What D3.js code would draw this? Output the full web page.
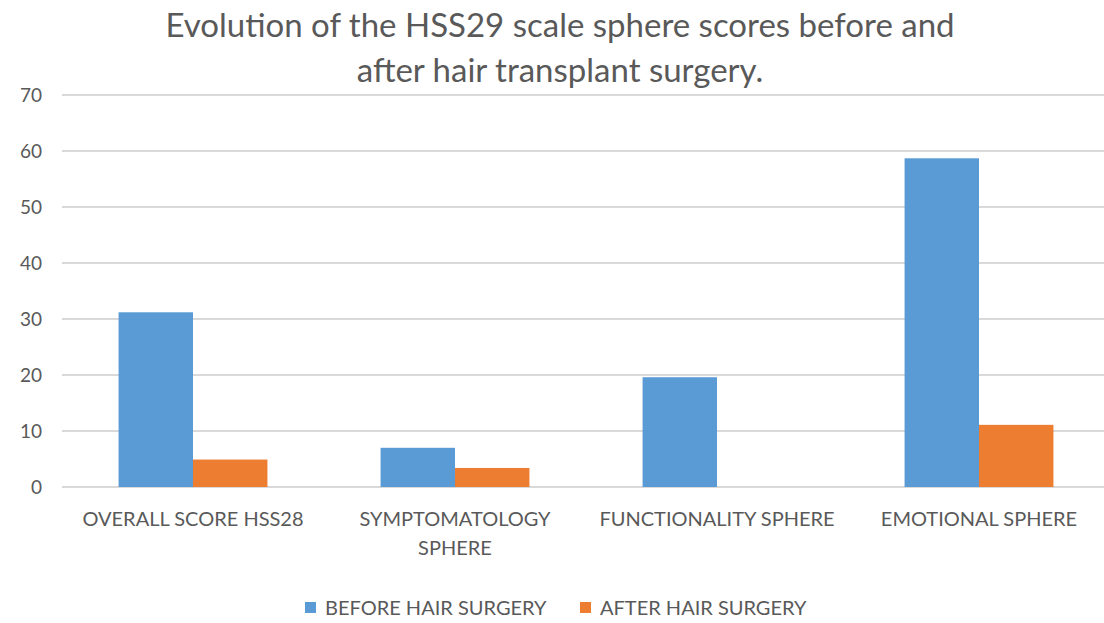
<!DOCTYPE html>
<html>
<head>
<meta charset="utf-8">
<script src="https://cdn.jsdelivr.net/npm/d3@7"></script>
<style>
  body { margin: 0; background: #fff; }
  text { font-family: Lato, "Open Sans", sans-serif; fill: #595959; }
</style>
</head>
<body>
<svg width="1104" height="623"></svg>
<script>
let categories = [
  ["OVERALL SCORE HSS28"],
  ["SYMPTOMATOLOGY", "SPHERE"],
  ["FUNCTIONALITY SPHERE"],
  ["EMOTIONAL SPHERE"],
];
let seriesNames = ["BEFORE HAIR SURGERY", "AFTER HAIR SURGERY"];
let beforeValues = [31.2, 7.0, 19.6, 58.7];
let afterValues = [4.9, 3.4, 0, 11.1];
let yTicks = [0, 10, 20, 30, 40, 50, 60, 70];
let titleLines = [
  "Evolution of the HSS29 scale sphere scores before and",
  "after hair transplant surgery.",
];

let colors = ["#5B9BD5", "#ED7D31"];

let svg = d3.select("svg"),
  plotLeft = 62,
  plotRight = 1110,
  plotTop = 95,
  plotBottom = 487;

let catKeys = categories.map((c) => c.join(" "));

let x0 = d3.scaleBand().domain(catKeys).range([plotLeft, plotRight]);
let x1 = d3
  .scaleBand()
  .domain(seriesNames)
  .range([0, x0.bandwidth()])
  .paddingOuter(0.76);
let y = d3.scaleLinear().domain([0, 70]).range([plotBottom, plotTop]);

// title
svg
  .append("g")
  .selectAll("text")
  .data(titleLines)
  .enter()
  .append("text")
  .attr("x", 560)
  .attr("y", (d, i) => 37 + i * 45)
  .attr("text-anchor", "middle")
  .style("font-size", "33px")
  .text((d) => d);

// gridlines
svg
  .append("g")
  .selectAll("line")
  .data(yTicks)
  .enter()
  .append("line")
  .attr("x1", plotLeft)
  .attr("x2", 1104)
  .attr("y1", (d) => y(d))
  .attr("y2", (d) => y(d))
  .attr("stroke", "#D9D9D9")
  .attr("stroke-width", 2);

// y axis labels
let yAxis = svg
  .append("g")
  .attr("transform", "translate(" + (plotLeft - 20) + ",0)")
  .call(d3.axisLeft(y).tickValues(yTicks).tickSize(0).tickPadding(0));
yAxis.select(".domain").remove();
yAxis.selectAll("text").style("font-size", "19px").style("font-family", null);

// bars
let rows = catKeys.map((k, i) => ({
  key: k,
  vals: [beforeValues[i], afterValues[i]],
}));

let groups = svg
  .append("g")
  .selectAll("g")
  .data(rows)
  .enter()
  .append("g")
  .attr("transform", (d) => "translate(" + x0(d.key) + ",0)");

groups
  .selectAll("rect")
  .data((d) => d.vals.map((v, j) => ({ name: seriesNames[j], v: v, j: j })))
  .enter()
  .filter((d) => d.v > 0)
  .append("rect")
  .attr("x", (d) => x1(d.name))
  .attr("width", x1.bandwidth())
  .attr("y", (d) => y(d.v))
  .attr("height", (d) => y(0) - y(d.v))
  .attr("fill", (d) => colors[d.j]);

// category labels
let catLabels = svg
  .append("g")
  .selectAll("text")
  .data(categories)
  .enter()
  .append("text")
  .attr("x", (d, i) => x0(catKeys[i]) + x0.bandwidth() / 2)
  .attr("y", 526)
  .attr("text-anchor", "middle")
  .style("font-size", "20px");
catLabels
  .selectAll("tspan")
  .data((d) => d)
  .enter()
  .append("tspan")
  .attr("x", function () {
    return d3.select(this.parentNode).attr("x");
  })
  .attr("dy", (d, i) => (i == 0 ? 0 : 29))
  .text((d) => d);

// legend
let legend = svg
  .append("g")
  .selectAll("g")
  .data(seriesNames)
  .enter()
  .append("g")
  .attr("transform", (d, i) => "translate(" + [305, 580][i] + ",602)");
legend
  .append("rect")
  .attr("width", 11)
  .attr("height", 11)
  .attr("fill", (d, i) => colors[i]);
legend
  .append("text")
  .attr("x", 20)
  .attr("y", 13)
  .style("font-size", "20px")
  .text((d) => d);
</script>
</body>
</html>
